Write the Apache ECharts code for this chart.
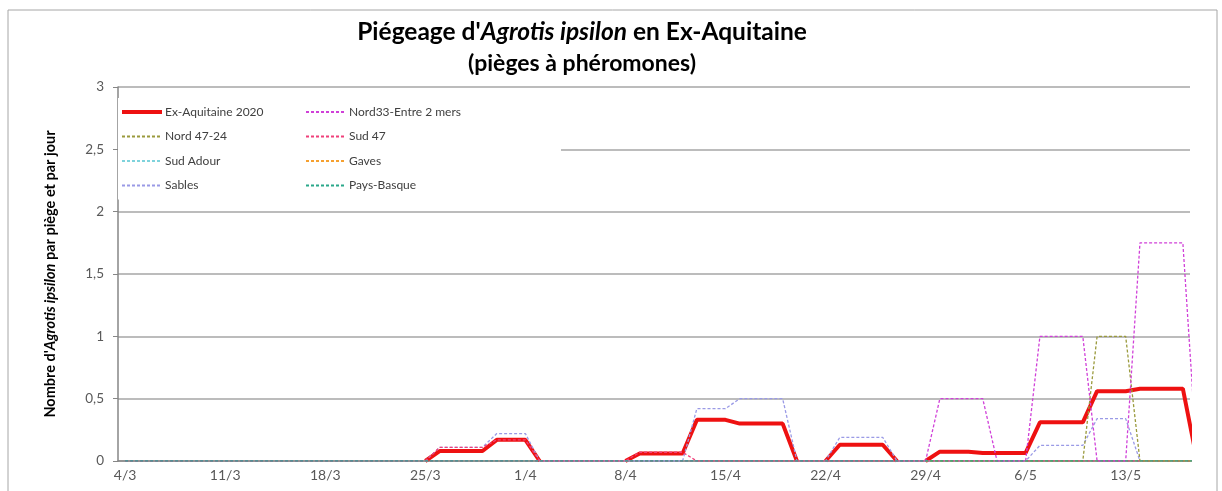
<!DOCTYPE html>
<html>
<head>
<meta charset="utf-8">
<script src="https://cdn.jsdelivr.net/npm/echarts@6/dist/echarts.min.js"></script>
<style>
  html, body { margin: 0; padding: 0; background: #fff; }
  #chart { width: 1222px; height: 491px; }
</style>
</head>
<body>
<div id="chart"></div>
<script>
// jours du 4/3 au 18/5 (le dernier est coupé par le bord du graphique)
const dates = [
  '4/3','5/3','6/3','7/3','8/3','9/3','10/3',
  '11/3','12/3','13/3','14/3','15/3','16/3','17/3',
  '18/3','19/3','20/3','21/3','22/3','23/3','24/3',
  '25/3','26/3','27/3','28/3','29/3','30/3','31/3',
  '1/4','2/4','3/4','4/4','5/4','6/4','7/4',
  '8/4','9/4','10/4','11/4','12/4','13/4','14/4',
  '15/4','16/4','17/4','18/4','19/4','20/4','21/4',
  '22/4','23/4','24/4','25/4','26/4','27/4','28/4',
  '29/4','30/4','1/5','2/5','3/5','4/5','5/5',
  '6/5','7/5','8/5','9/5','10/5','11/5','12/5',
  '13/5','14/5','15/5','16/5','17/5','18/5'
];
const lastShown = '17/5';

const yTicks = [0, 0.5, 1, 1.5, 2, 2.5, 3];

const exAquitaine = [
  null,null,null,null,null,null,null,
  null,null,null,null,null,null,null,
  null,null,null,null,null,null,null,
  0,0.08,0.08,0.08,0.08,0.17,0.17,
  0.17,0,null,null,null,null,null,
  0,0.06,0.06,0.06,0.06,0.33,0.33,
  0.33,0.30,0.30,0.30,0.30,0,null,
  0,0.13,0.13,0.13,0.13,0,null,
  0,0.075,0.075,0.075,0.065,0.065,0.065,
  0.065,0.31,0.31,0.31,0.31,0.56,0.56,
  0.56,0.58,0.58,0.58,0.58,0
];
const nord33 = [
  0,0,0,0,0,0,0, 0,0,0,0,0,0,0, 0,0,0,0,0,0,0, 0,0,0,0,0,0,0,
  0,0,0,0,0,0,0, 0,0,0,0,0,0,0, 0,0,0,0,0,0,0, 0,0,0,0,0,0,0,
  0,0.5,0.5,0.5,0.5,0,0,
  0,1,1,1,1,0,0,
  0,1.75,1.75,1.75,1.75,0
];
const nord4724 = [
  0,0,0,0,0,0,0, 0,0,0,0,0,0,0, 0,0,0,0,0,0,0, 0,0,0,0,0,0,0,
  0,0,0,0,0,0,0, 0,0,0,0,0,0,0, 0,0,0,0,0,0,0, 0,0,0,0,0,0,0,
  0,0,0,0,0,0,0,
  0,0,0,0,0,1,1,
  1,0,0,0,0,0
];
const sud47 = [
  0,0,0,0,0,0,0, 0,0,0,0,0,0,0, 0,0,0,0,0,0,0,
  0,0.11,0.11,0.11,0.11,0.17,0.17,
  0.17,0,0,0,0,0,0,
  0,0.07,0.07,0.07,0.07,0,0,
  0,0,0,0,0,0,0, 0,0,0,0,0,0,0, 0,0,0,0,0,0,0, 0,0,0,0,0,0,0,
  0,0,0,0,0,0
];
const sudAdour = [
  0,0,0,0,0,0,0, 0,0,0,0,0,0,0, 0,0,0,0,0,0,0, 0,0,0,0,0,0,0,
  0,0,0,0,0,0,0, 0,0,0,0,0,0,0, 0,0,0,0,0,0,0, 0,0,0,0,0,0,0,
  0,0,0,0,0,0,0, 0,0,0,0,0,0,0, 0,0,0,0,0,0
];
const gaves = [
  0,0,0,0,0,0,0, 0,0,0,0,0,0,0, 0,0,0,0,0,0,0, 0,0,0,0,0,0,0,
  0,0,0,0,0,0,0, 0,0,0,0,0,0,0, 0,0,0,0,0,0,0, 0,0,0,0,0,0,0,
  0,0,0,0,0,0,0, 0,0,0,0,0,0,0, 0,0,0,0,0,0
];
const sables = [
  0,0,0,0,0,0,0, 0,0,0,0,0,0,0, 0,0,0,0,0,0,0,
  0,0.11,0.11,0.11,0.11,0.22,0.22,
  0.22,0,0,0,0,0,0,
  0,0,0,0,0,0.42,0.42,
  0.42,0.5,0.5,0.5,0.5,0,0,
  0,0.19,0.19,0.19,0.19,0,0,
  0,0,0,0,0,0,0,
  0,0.125,0.125,0.125,0.125,0.34,0.34,
  0.34,0,0,0,0,0
];
const paysBasque = [
  0,0,0,0,0,0,0, 0,0,0,0,0,0,0, 0,0,0,0,0,0,0, 0,0,0,0,0,0,0,
  0,0,0,0,0,0,0, 0,0,0,0,0,0,0, 0,0,0,0,0,0,0, 0,0,0,0,0,0,0,
  0,0,0,0,0,0,0, 0,0,0,0,0,0,0, 0,0,0,0,0,0
];

const font = 'Lato, "Liberation Sans", sans-serif';

function dashed(name, data, color) {
  return {
    name: name, type: 'line', data: data, symbol: 'none',
    lineStyle: { color: color, width: 1.3, type: [3, 2] },
    itemStyle: { color: color },
    animation: false
  };
}

let legendBase = {
  orient: 'vertical', top: 98, itemGap: 12.5,
  itemWidth: 40, itemHeight: 12, backgroundColor: '#fff',
  itemStyle: { opacity: 0 },
  textStyle: { fontFamily: font, fontSize: 12, color: '#404040', padding: [0, 0, 0, -2] }
};

let myChart = echarts.init(document.getElementById('chart'));
myChart.setOption({
  backgroundColor: '#ffffff',
  animation: false,
  title: {
    text: "{b|Piégeage d'}{i|Agrotis ipsilon}{b| en Ex-Aquitaine}\n{s|(pièges à phéromones)}",
    left: 582, top: 17, padding: 0,
    textAlign: 'center',
    textStyle: {
      rich: {
        b: { fontFamily: font, fontWeight: 'bold', fontSize: 24.5, color: '#000', lineHeight: 31 },
        i: { fontFamily: font, fontWeight: 'bold', fontStyle: 'italic', fontSize: 24.5, color: '#000', lineHeight: 31 },
        s: { fontFamily: font, fontWeight: 'bold', fontSize: 23, color: '#000', lineHeight: 31 }
      }
    }
  },
  graphic: [{
    type: 'rect', silent: true,
    shape: { x: 8, y: 10, width: 1209, height: 520 },
    style: { fill: 'none', stroke: '#a6a6a6', lineWidth: 1 }
  }],
  legend: [
    Object.assign({}, legendBase, {
      data: [
        { name: 'Ex-Aquitaine 2020', lineStyle: { width: 4 } },
        'Nord 47-24', 'Sud Adour', 'Sables'
      ],
      left: 118, padding: [8, 40, 8, 2]
    }),
    Object.assign({}, legendBase, {
      data: ['Nord33-Entre 2 mers', 'Sud 47', 'Gaves', 'Pays-Basque'],
      left: 303, padding: [8, 100, 8, 2]
    })
  ],
  grid: { left: 118, right: 32, top: 87, bottom: 30, containLabel: false },
  xAxis: {
    type: 'category',
    data: dates,
    max: dates.indexOf(lastShown),
    boundaryGap: true,
    axisLine: { lineStyle: { color: '#868686', width: 1.5 } },
    axisTick: { interval: 6, length: 5, lineStyle: { color: '#868686' } },
    axisLabel: { interval: 6, margin: 7, fontFamily: font, fontSize: 14, color: '#595959' },
    splitLine: { show: false }
  },
  yAxis: {
    type: 'value',
    min: yTicks[0], max: yTicks[yTicks.length - 1], interval: yTicks[1] - yTicks[0],
    name: "{b|Nombre d'}{i|Agrotis ipsilon}{b| par piège et par jour}",
    nameLocation: 'middle', nameGap: 60,
    nameTextStyle: {
      rich: {
        b: { fontFamily: font, fontWeight: 'bold', fontSize: 14.5, color: '#000' },
        i: { fontFamily: font, fontWeight: 'bold', fontStyle: 'italic', fontSize: 14.5, color: '#000' }
      }
    },
    axisLine: { show: true, lineStyle: { color: '#868686', width: 1.5 } },
    axisTick: { show: true, length: 5, lineStyle: { color: '#868686' } },
    axisLabel: {
      margin: 14, fontFamily: font, fontSize: 13.5, color: '#595959',
      formatter: function (v) { return String(v).replace('.', ','); }
    },
    splitLine: { lineStyle: { color: '#a6a6a6', width: 1.5 } }
  },
  series: [
    {
      name: 'Ex-Aquitaine 2020', type: 'line', data: exAquitaine, symbol: 'none',
      lineStyle: { color: '#ee1111', width: 4 }, itemStyle: { color: '#ee1111' },
      animation: false
    },
    dashed('Sables', sables, '#9a9ae6'),
    dashed('Sud Adour', sudAdour, '#7fd3dc'),
    dashed('Gaves', gaves, '#f5a030'),
    dashed('Sud 47', sud47, '#f0407a'),
    dashed('Nord 47-24', nord4724, '#9a9a3c'),
    dashed('Nord33-Entre 2 mers', nord33, '#d040d8'),
    dashed('Pays-Basque', paysBasque, '#2aa88a')
  ]
});
</script>
</body>
</html>
